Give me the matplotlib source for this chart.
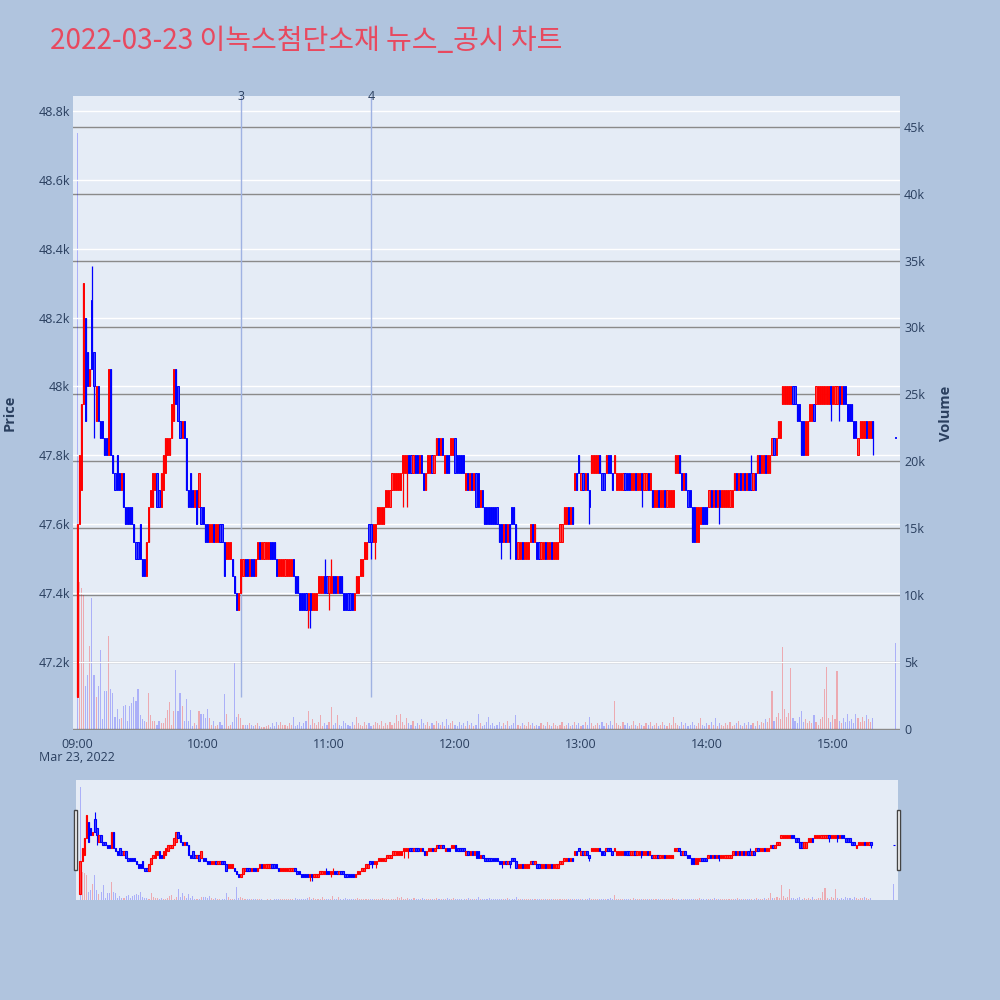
import numpy as np
import matplotlib
matplotlib.use("Agg")
import matplotlib.pyplot as plt
from matplotlib.patches import Rectangle
import matplotlib.transforms as mtransforms

plt.rcParams['font.family'] = ['Open Sans', 'Noto Sans CJK KR', 'DejaVu Sans']

title = "2022-03-23 이녹스첨단소재 뉴스_공시 차트"

# minutes after 09:00
minutes = list(range(0, 380)) + [390]
opens = [
    47100, 47600, 47700, 47950, 48200, 48100, 48000, 48250, 48100, 47900,
    48000, 47900, 47900, 47850, 47850, 47800, 48050, 47800, 47750, 47800,
    47750, 47700, 47750, 47650, 47650, 47650, 47650, 47600, 47550, 47550,
    47600, 47500, 47500, 47450, 47550, 47650, 47650, 47700, 47750, 47700,
    47650, 47700, 47750, 47800, 47800, 47850, 47900, 48050, 48000, 47900,
    47850, 47900, 47850, 47700, 47750, 47700, 47650, 47700, 47650, 47650,
    47650, 47600, 47600, 47550, 47550, 47600, 47550, 47550, 47600, 47600,
    47550, 47500, 47500, 47500, 47500, 47450, 47400, 47350, 47400, 47450,
    47500, 47500, 47450, 47500, 47500, 47450, 47500, 47550, 47500, 47500,
    47500, 47500, 47550, 47550, 47550, 47500, 47450, 47450, 47450, 47450,
    47450, 47450, 47450, 47500, 47450, 47450, 47400, 47400, 47400, 47400,
    47350, 47400, 47350, 47350, 47350, 47400, 47400, 47400, 47450, 47450,
    47400, 47400, 47450, 47450, 47400, 47450, 47450, 47400, 47400, 47400,
    47400, 47400, 47350, 47400, 47400, 47450, 47450, 47500, 47500, 47600,
    47600, 47550, 47550, 47600, 47600, 47600, 47600, 47650, 47650, 47650,
    47700, 47700, 47700, 47700, 47700, 47750, 47750, 47750, 47800, 47800,
    47750, 47800, 47800, 47750, 47800, 47750, 47700, 47750, 47750, 47800,
    47750, 47800, 47850, 47800, 47850, 47750, 47800, 47800, 47800, 47800,
    47850, 47800, 47800, 47800, 47800, 47700, 47750, 47700, 47750, 47700,
    47750, 47750, 47650, 47700, 47650, 47650, 47650, 47650, 47650, 47650,
    47650, 47600, 47600, 47550, 47600, 47550, 47600, 47650, 47650, 47600,
    47500, 47500, 47550, 47500, 47500, 47500, 47550, 47600, 47550, 47550,
    47550, 47500, 47500, 47550, 47500, 47500, 47550, 47500, 47500, 47500,
    47550, 47550, 47600, 47600, 47650, 47600, 47650, 47700, 47750, 47800,
    47700, 47750, 47700, 47750, 47700, 47750, 47750, 47750, 47750, 47800,
    47750, 47750, 47750, 47800, 47800, 47750, 47750, 47700, 47700, 47700,
    47700, 47750, 47750, 47750, 47700, 47700, 47750, 47700, 47700, 47750,
    47700, 47700, 47750, 47700, 47700, 47650, 47650, 47700, 47650, 47650,
    47700, 47650, 47650, 47650, 47650, 47750, 47750, 47800, 47750, 47700,
    47750, 47700, 47700, 47650, 47650, 47550, 47550, 47600, 47650, 47650,
    47650, 47650, 47700, 47650, 47700, 47650, 47700, 47650, 47650, 47650,
    47650, 47650, 47650, 47700, 47750, 47700, 47750, 47700, 47750, 47700,
    47750, 47750, 47700, 47750, 47750, 47800, 47750, 47750, 47800, 47750,
    47750, 47800, 47850, 47800, 47850, 47850, 47950, 47950, 47950, 47950,
    47950, 48000, 48000, 47950, 47950, 47900, 47900, 47800, 47800, 47900,
    47900, 47950, 47950, 47950, 47950, 47950, 47950, 47950, 47950, 48000,
    47950, 47950, 47950, 48000, 47950, 48000, 48000, 47950, 47950, 47950,
    47900, 47900, 47800, 47850, 47850, 47850, 47900, 47850, 47850, 47900,
    47850,
]
closes = [
    47600, 47800, 47950, 48300, 47900, 48000, 48050, 48050, 48000, 48000,
    47900, 47850, 47850, 47800, 47800, 48050, 47800, 47750, 47700, 47700,
    47700, 47750, 47650, 47600, 47600, 47600, 47600, 47550, 47500, 47500,
    47500, 47450, 47450, 47550, 47650, 47700, 47750, 47750, 47650, 47650,
    47750, 47800, 47850, 47850, 47850, 47950, 48050, 47950, 47900, 47850,
    47900, 47850, 47700, 47650, 47650, 47650, 47700, 47600, 47750, 47600,
    47600, 47550, 47550, 47600, 47600, 47550, 47600, 47600, 47550, 47550,
    47450, 47550, 47550, 47550, 47450, 47400, 47350, 47400, 47500, 47500,
    47450, 47450, 47500, 47450, 47450, 47500, 47550, 47500, 47550, 47550,
    47550, 47550, 47500, 47500, 47500, 47450, 47500, 47500, 47500, 47500,
    47500, 47500, 47500, 47450, 47400, 47400, 47350, 47350, 47350, 47350,
    47400, 47350, 47400, 47400, 47400, 47450, 47450, 47450, 47400, 47400,
    47450, 47450, 47400, 47400, 47450, 47400, 47400, 47350, 47350, 47350,
    47350, 47350, 47400, 47450, 47450, 47500, 47500, 47550, 47550, 47550,
    47550, 47600, 47600, 47650, 47650, 47650, 47650, 47700, 47700, 47700,
    47750, 47750, 47750, 47750, 47750, 47800, 47800, 47800, 47750, 47750,
    47800, 47750, 47750, 47800, 47750, 47700, 47750, 47800, 47800, 47750,
    47800, 47850, 47800, 47850, 47800, 47800, 47750, 47750, 47850, 47850,
    47750, 47750, 47750, 47750, 47750, 47750, 47700, 47750, 47700, 47750,
    47650, 47650, 47700, 47650, 47600, 47600, 47600, 47600, 47600, 47600,
    47600, 47550, 47550, 47600, 47550, 47600, 47550, 47600, 47600, 47500,
    47550, 47550, 47500, 47550, 47550, 47550, 47600, 47550, 47600, 47500,
    47500, 47550, 47550, 47500, 47550, 47550, 47500, 47550, 47550, 47550,
    47600, 47600, 47650, 47650, 47600, 47650, 47600, 47750, 47700, 47750,
    47750, 47700, 47750, 47700, 47650, 47800, 47800, 47800, 47800, 47750,
    47700, 47700, 47800, 47750, 47750, 47700, 47800, 47750, 47750, 47750,
    47750, 47700, 47700, 47700, 47750, 47750, 47700, 47750, 47750, 47700,
    47750, 47750, 47700, 47750, 47650, 47700, 47700, 47650, 47700, 47700,
    47650, 47700, 47700, 47700, 47700, 47800, 47800, 47750, 47700, 47750,
    47700, 47650, 47650, 47550, 47550, 47650, 47650, 47650, 47600, 47600,
    47600, 47700, 47650, 47700, 47650, 47700, 47650, 47700, 47700, 47700,
    47700, 47700, 47700, 47750, 47700, 47750, 47700, 47750, 47700, 47750,
    47700, 47700, 47750, 47700, 47800, 47750, 47800, 47800, 47750, 47800,
    47800, 47850, 47800, 47850, 47900, 47900, 48000, 48000, 48000, 48000,
    48000, 47950, 47950, 47900, 47900, 47800, 47800, 47900, 47900, 47950,
    47950, 47900, 48000, 48000, 48000, 48000, 48000, 48000, 48000, 47950,
    48000, 48000, 48000, 47950, 48000, 47950, 47950, 47900, 47900, 47900,
    47850, 47850, 47850, 47900, 47900, 47900, 47850, 47900, 47900, 47850,
    47850,
]
wick_highs = {7: 48350, 118: 47500, 121: 47500, 321: 47800}
wick_lows = {8: 47850, 110: 47300, 111: 47300, 120: 47350, 140: 47500, 142: 47500,
             155: 47650, 157: 47650, 202: 47500, 206: 47500, 244: 47600, 269: 47650,
             306: 47600, 359: 47900, 363: 47900, 379: 47800}

volumes = [
    44500, 11000, 10500, 10000, 3200, 4000, 6200, 9800, 4000, 2400,
    3200, 5900, 700, 2800, 2800, 6900, 3000, 2700, 900, 1500,
    700, 800, 1700, 1800, 600, 1700, 1900, 2400, 2100, 3000,
    1000, 700, 600, 500, 2700, 1000, 600, 600, 300, 600,
    400, 400, 800, 1400, 2000, 300, 1300, 4400, 1300, 2700,
    1700, 600, 2200, 600, 1400, 200, 400, 300, 1300, 1100,
    1100, 800, 1500, 800, 300, 600, 200, 300, 500, 300,
    2600, 1100, 200, 300, 500, 5000, 900, 1100, 800, 300,
    300, 300, 400, 300, 200, 300, 400, 200, 100, 100,
    200, 300, 100, 400, 200, 500, 300, 500, 300, 300,
    200, 400, 300, 900, 200, 300, 500, 200, 400, 600,
    1350, 300, 700, 400, 300, 500, 1000, 200, 400, 300,
    500, 1650, 300, 400, 1000, 300, 200, 600, 400, 300,
    200, 500, 300, 900, 400, 300, 200, 500, 300, 400,
    200, 300, 500, 400, 300, 600, 200, 400, 300, 500,
    300, 400, 1000, 600, 1100, 500, 300, 800, 400, 300,
    600, 200, 400, 300, 700, 400, 300, 500, 200, 400,
    300, 600, 400, 300, 500, 200, 700, 300, 400, 600,
    300, 200, 500, 300, 400, 200, 600, 300, 400, 200,
    300, 1100, 400, 200, 300, 500, 900, 300, 400, 200,
    300, 500, 200, 400, 300, 600, 200, 300, 400, 1000,
    300, 200, 400, 300, 200, 500, 300, 400, 200, 300,
    200, 400, 300, 200, 500, 300, 200, 400, 300, 200,
    300, 500, 200, 300, 400, 200, 300, 500, 300, 400,
    200, 300, 500, 300, 900, 400, 200, 300, 400, 300,
    500, 200, 400, 300, 600, 300, 2100, 400, 300, 200,
    500, 300, 400, 200, 300, 600, 300, 200, 400, 300,
    200, 400, 300, 500, 200, 300, 400, 200, 300, 500,
    300, 200, 400, 300, 900, 400, 300, 200, 500, 300,
    400, 200, 300, 500, 300, 200, 400, 800, 300, 200,
    400, 300, 500, 300, 800, 200, 400, 300, 200, 400,
    300, 500, 200, 300, 400, 600, 300, 200, 400, 300,
    500, 300, 400, 200, 600, 300, 500, 400, 700, 500,
    800, 2800, 600, 900, 1200, 700, 6100, 1500, 900, 1200,
    4500, 800, 600, 400, 900, 1350, 500, 700, 400, 600,
    400, 1000, 500, 300, 700, 900, 3000, 4600, 800, 500,
    1000, 700, 4300, 600, 400, 800, 500, 1100, 600, 700,
    400, 1100, 800, 500, 900, 600, 1000, 700, 500, 800,
    6400,
]

news_labels = ["3", "4"]
news_minutes = [78, 140]

x_ticks = [0, 60, 120, 180, 240, 300, 360]
x_tick_labels = ["09:00", "10:00", "11:00", "12:00", "13:00", "14:00", "15:00"]
price_ticks = [47200, 47400, 47600, 47800, 48000, 48200, 48400, 48600, 48800]
price_tick_labels = ["47.2k", "47.4k", "47.6k", "47.8k", "48k", "48.2k", "48.4k", "48.6k", "48.8k"]
vol_ticks = [0, 5000, 10000, 15000, 20000, 25000, 30000, 35000, 40000, 45000]
vol_tick_labels = ["0", "5k", "10k", "15k", "20k", "25k", "30k", "35k", "40k", "45k"]

BG = "#b0c4de"
PLOT_BG = "#e5ecf6"
TXT = "#2a3f5f"
UP = "#ff0000"
DOWN = "#0000ff"

x = np.array(minutes, dtype=float)
o = np.array(opens, dtype=float)
c = np.array(closes, dtype=float)
h = np.maximum(o, c)
l = np.minimum(o, c)
for k, val in wick_highs.items():
    h[k] = max(h[k], val)
for k, val in wick_lows.items():
    l[k] = min(l[k], val)
up = c > o
cols = np.where(up, UP, DOWN)
v = np.array(volumes, dtype=float)
vcols = [(1, 0, 0, 0.28) if u else (0, 0, 1, 0.25) for u in up]
vcols[0] = (0, 0, 1, 0.25)

XLIM = (-2, 392)
PLIM = (47003, 48843)
VLIM = (-100, 47300)

fig = plt.figure(figsize=(10, 10), dpi=100)
fig.patch.set_facecolor(BG)

ax_v = fig.add_axes([0.073, 0.270, 0.827, 0.634])
ax_p = ax_v.twinx()
ax_v.yaxis.tick_right()
ax_p.yaxis.tick_left()
ax_v.set_facecolor(PLOT_BG)
ax_p.set_zorder(ax_v.get_zorder() + 1)
ax_p.patch.set_visible(False)


def draw(axp, axv, body_w, lw, wick_lw, vol_w):
    axv.bar(x, v, width=vol_w, color=vcols, linewidth=0, zorder=2)
    axp.vlines(x, l, h, colors=cols, linewidth=wick_lw, zorder=3)
    body_lo = np.minimum(o, c)
    body_h = np.maximum(np.abs(c - o), 2)
    face = [(1, 0.25, 0.25, 1.0) if u else (0.25, 0.25, 1, 1.0) for u in up]
    axp.bar(x, body_h, bottom=body_lo, width=body_w, color=face,
            edgecolor=cols, linewidth=lw, zorder=4)


draw(ax_p, ax_v, 0.55, 0.7, 0.9, 0.55)

for axx in (ax_v, ax_p):
    axx.set_xlim(*XLIM)
    for s in axx.spines.values():
        s.set_visible(False)
ax_p.set_ylim(*PLIM)
ax_v.set_ylim(*VLIM)

ax_v.set_yticks(vol_ticks)
ax_v.set_yticklabels(vol_tick_labels)
ax_v.yaxis.grid(True, color="#8a8a8a", linewidth=1.0, zorder=1)
ax_v.set_axisbelow(True)
for t in price_ticks:
    ax_p.axhline(t, color="white", linewidth=1.0, zorder=0.5)
ax_p.set_yticks(price_ticks)
ax_p.set_yticklabels(price_tick_labels)
ax_v.set_xticks(x_ticks)
ax_v.set_xticklabels(x_tick_labels)
ax_p.tick_params(axis="x", labelbottom=False, bottom=False, length=0)

ax_v.tick_params(axis="y", length=0, pad=3, labelsize=9, labelcolor=TXT)
ax_p.tick_params(axis="y", length=0, pad=2, labelsize=9, labelcolor=TXT)
ax_v.tick_params(axis="x", length=0, pad=6, labelsize=9, labelcolor=TXT)

trans = mtransforms.blended_transform_factory(ax_p.transData, ax_p.transAxes)
for lab, m in zip(news_labels, news_minutes):
    ax_p.vlines(m, 47100, PLIM[1], colors="#9fb2e2", linewidth=1.0, zorder=2)
    ax_p.text(m, 1.0, lab, transform=trans, ha="center", va="center",
              fontsize=9, color=TXT, zorder=6)

fig.text(0.077, 0.2425, "Mar 23, 2022", ha="center", va="center", fontsize=9, color=TXT)
fig.text(0.010, 0.587, "Price", rotation=90, ha="center", va="center", fontsize=10.5,
         color=TXT, fontweight="bold")
fig.text(0.946, 0.587, "Volume", rotation=90, ha="center", va="center", fontsize=10.5,
         color=TXT, fontweight="bold")
fig.text(0.050, 0.959, title, ha="left", va="center", fontsize=20.2, color="#e8495f",
         family=["Noto Sans CJK KR", "DejaVu Sans"])

# range slider
sl_v = fig.add_axes([0.076, 0.100, 0.822, 0.120])
sl_p = sl_v.twinx()
sl_v.set_facecolor(PLOT_BG)
sl_p.set_zorder(sl_v.get_zorder() + 1)
sl_p.patch.set_visible(False)
draw(sl_p, sl_v, 0.7, 0.8, 0.8, 0.5)
for axx in (sl_v, sl_p):
    axx.set_xlim(*XLIM)
    axx.set_xticks([])
    axx.set_yticks([])
    for s in axx.spines.values():
        s.set_visible(False)
sl_p.set_ylim(*PLIM)
sl_v.set_ylim(0, 47300)

for hx in (0.0735, 0.8965):
    fig.patches.append(Rectangle((hx, 0.130), 0.0035, 0.060, transform=fig.transFigure,
                                 facecolor="white", edgecolor="#444444", linewidth=1.0))

fig.savefig("out.png", dpi=100, facecolor=BG)
